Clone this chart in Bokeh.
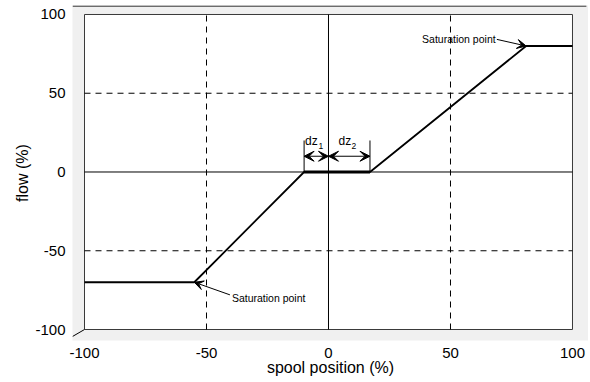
from bokeh.plotting import figure
from bokeh.models import Range1d, FixedTicker, Arrow, VeeHead
from bokeh.core.properties import value
from bokeh.embed import file_html
from bokeh.resources import INLINE

# ---- data ----
spool = [-100, -55, -10, 17, 81, 100]
flow = [-70, -70, 0, 0, 80, 80]
dz1 = -10
dz2 = 17
x_ticks = [-100, -50, 0, 50, 100]
x_tick_labels = ["-100", "-50", "0", "50", "100"]
y_ticks = [-100, -50, 0, 50, 100]
y_tick_labels = ["-100", "-50", "0", "50", "100"]
grid_dashed = [-50, 50]
sat_label = "Saturation point"

FONT = "Liberation Sans"

X0, X1 = -104.92, 106.56
Y0, Y1 = -106.98, 105.71

p = figure(width=588, height=380,
           x_range=Range1d(X0, X1), y_range=Range1d(Y0, Y1),
           output_backend="svg", toolbar_location=None,
           min_border_left=72, min_border_right=0, min_border_top=5, min_border_bottom=40)
p.background_fill_color = "#f0f0f0"
p.border_fill_color = "white"
p.outline_line_color = None
p.grid.visible = False

for ax in (p.xaxis, p.yaxis):
    ax.axis_line_color = None
    ax.major_tick_line_color = None
    ax.minor_tick_line_color = None
    ax.major_label_text_font = FONT
    ax.major_label_text_font_size = "15px"
    ax.major_label_text_color = "black"
    ax.axis_label_text_font = FONT
    ax.axis_label_text_font_size = "16px"
    ax.axis_label_text_font_style = "normal"
    ax.axis_label_text_color = "black"

p.xaxis.ticker = FixedTicker(ticks=x_ticks)
p.xaxis.major_label_overrides = {t: l for t, l in zip(x_ticks, x_tick_labels)}
p.yaxis.ticker = FixedTicker(ticks=y_ticks)
p.yaxis.major_label_overrides = {t: l for t, l in zip(y_ticks, y_tick_labels)}
p.xaxis.axis_label = "spool position (%)"
p.yaxis.axis_label = "flow (%)"
p.xaxis.major_label_standoff = 1
p.xaxis.axis_label_standoff = -2
p.yaxis.major_label_standoff = 1
p.yaxis.axis_label_standoff = 1

xmin, xmax = x_ticks[0], x_ticks[-1]
ymin, ymax = y_ticks[0], y_ticks[-1]

# white back wall
p.quad(left=[xmin], right=[xmax], bottom=[ymin], top=[ymax],
       fill_color="white", line_color="#3a3a3a", line_width=1)

# top edge and bottom-left diagonal of 3D box
p.line(x=[X0, 105.7], y=[Y1 - 0.35, Y1 - 0.35], line_color="black", line_width=1)
p.line(x=[xmin, xmin - 4.92], y=[ymin, ymin - 4.44], line_color="black", line_width=1)

# dashed grid
p.segment(x0=grid_dashed, x1=grid_dashed, y0=[ymin] * 2, y1=[ymax] * 2,
          line_color="black", line_width=1, line_dash="6 5")
p.segment(x0=[xmin] * 2, x1=[xmax] * 2, y0=grid_dashed, y1=grid_dashed,
          line_color="black", line_width=1, line_dash="6 5")
# zero axes
p.segment(x0=[0, xmin], x1=[0, xmax], y0=[ymin, 0], y1=[ymax, 0],
          line_color="black", line_width=1)

# characteristic
p.line(x=spool, y=flow, line_color="black", line_width=1.8)
p.line(x=spool[2:4], y=flow[2:4], line_color="black", line_width=2.8)

# dead-zone brackets
p.segment(x0=[dz1, dz2], x1=[dz1, dz2], y0=[0, 0], y1=[20, 20],
          line_color="black", line_width=1)
for xs, xe in ((dz1, 0), (0, dz2)):
    p.add_layout(Arrow(x_start=xs, y_start=10, x_end=xe, y_end=10, line_width=1,
                       start=VeeHead(size=10, fill_color="black", line_color="black", line_width=1),
                       end=VeeHead(size=10, fill_color="black", line_color="black", line_width=1)))
p.text(x=[dz1 + 0.4, 4.1], y=[19.4, 19.4], text=["dz", "dz"],
       text_font=value(FONT), text_font_size=value("12px"),
       text_align="left", text_baseline="alphabetic", text_color="black")
p.text(x=[-4.1, 9.4], y=[16.6, 16.6], text=["1", "2"],
       text_font=value(FONT), text_font_size=value("8.5px"),
       text_align="left", text_baseline="alphabetic", text_color="black")

# saturation annotations
sx_hi, sy_hi = spool[4], flow[4]
sx_lo, sy_lo = spool[1], flow[1]
p.text(x=[sx_hi - 12.5], y=[sy_hi + 4.2], text=[sat_label],
       text_font=value(FONT), text_font_size=value("10.5px"),
       text_align="right", text_baseline="middle", text_color="black")
p.add_layout(Arrow(x_start=sx_hi - 12, y_start=sy_hi + 4.2, x_end=sx_hi, y_end=sy_hi,
                   line_width=1,
                   end=VeeHead(size=9, fill_color="black", line_color="black", line_width=1)))
p.text(x=[sx_lo + 15.4], y=[sy_lo - 9.7], text=[sat_label],
       text_font=value(FONT), text_font_size=value("10.5px"),
       text_align="left", text_baseline="middle", text_color="black")
p.add_layout(Arrow(x_start=sx_lo + 14.6, y_start=sy_lo - 8, x_end=sx_lo, y_end=sy_lo,
                   line_width=1,
                   end=VeeHead(size=9, fill_color="black", line_color="black", line_width=1)))

open("out.html", "w").write(file_html(p, INLINE))
